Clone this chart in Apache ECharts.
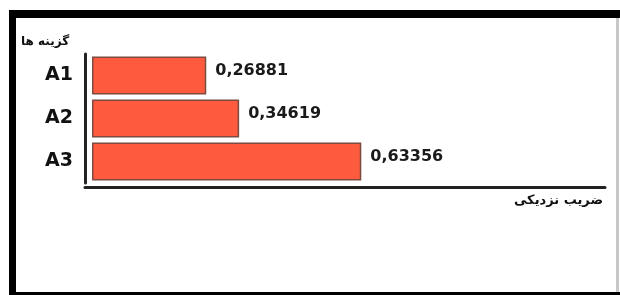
<!DOCTYPE html>
<html><head><meta charset="utf-8">
<script src="https://cdn.jsdelivr.net/npm/echarts@6/dist/echarts.min.js"></script>
<style>html,body{margin:0;padding:0;background:#fff}#c{width:620px;height:295px}</style>
</head><body><div id="c"></div>
<script>
const categories = ['A1', 'A2', 'A3'];
const values = [0.26881, 0.34619, 0.63356];
const yTitle = 'گزینه ها';
const xTitle = 'ضریب نزدیکی';

const chart = echarts.init(document.getElementById('c'), null, {renderer: 'canvas'});
chart.setOption({
  backgroundColor: '#fff',
  animation: false,
  title: [
    {text: yTitle, left: 16, top: 31, textStyle: {fontFamily: 'DejaVu Sans', fontSize: 12, fontWeight: 'bold', color: '#111'}},
    {text: xTitle, right: 12, top: 189, textStyle: {fontFamily: 'DejaVu Sans', fontSize: 13, fontWeight: 'bold', color: '#111'}}
  ],
  graphic: [
    {type: 'rect', shape: {x: 9, y: 10, width: 611, height: 8}, style: {fill: '#000'}, silent: true},
    {type: 'rect', shape: {x: 9, y: 10, width: 7, height: 285}, style: {fill: '#000'}, silent: true},
    {type: 'rect', shape: {x: 9, y: 292, width: 611, height: 3}, style: {fill: '#000'}, silent: true},
    {type: 'rect', shape: {x: 616, y: 18, width: 3, height: 274}, style: {fill: '#c8c8c8'}, silent: true}
  ],
  grid: {left: 85, right: 15, top: 54, bottom: 112, containLabel: false},
  xAxis: {
    type: 'value', min: -0.0165, max: 1.207, offset: 4,
    axisLine: {show: true, lineStyle: {color: '#222', width: 3}},
    axisTick: {show: false}, axisLabel: {show: false}, splitLine: {show: false}
  },
  yAxis: {
    type: 'category', data: categories, inverse: true,
    axisLine: {show: true, onZero: false, lineStyle: {color: '#222', width: 3}},
    axisTick: {show: false},
    axisLabel: {margin: 12, color: '#111', fontFamily: 'DejaVu Sans', fontWeight: 'bold', fontSize: 19, padding: [8, 0, 0, 0]}
  },
  series: [{
    type: 'bar', data: values, barWidth: 38,
    itemStyle: {color: '#FE5B3E', borderColor: '#7d4a40', borderWidth: 1.5},
    label: {
      show: true, position: 'right', distance: 9, offset: [0, -5],
      fontFamily: 'DejaVu Sans', fontWeight: 'bold', fontSize: 16, color: '#1a1a1a',
      formatter: p => p.value.toFixed(5).replace('.', ',')
    }
  }]
});
</script></body></html>
